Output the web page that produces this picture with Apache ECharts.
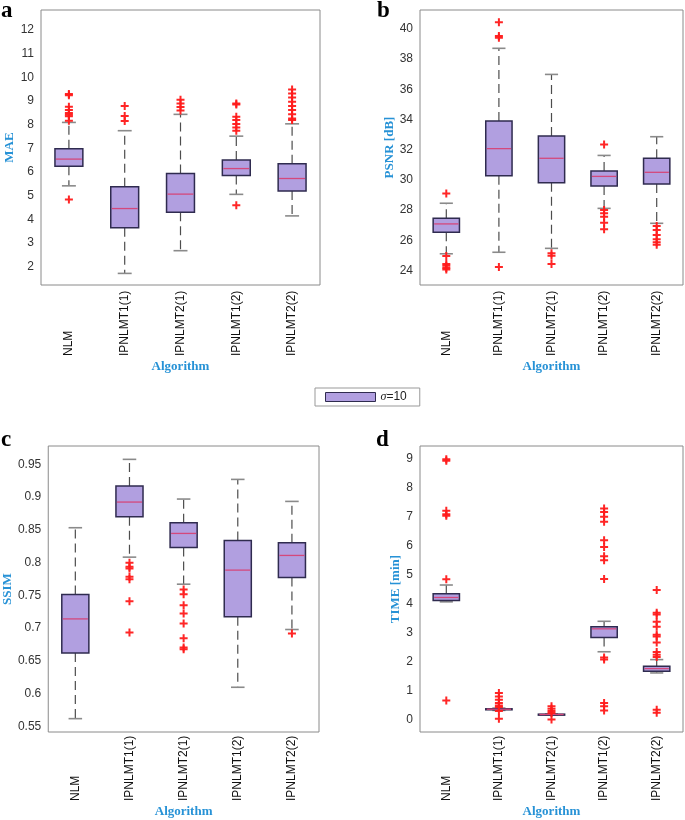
<!DOCTYPE html>
<html>
<head>
<meta charset="utf-8">
<script src="https://cdn.jsdelivr.net/npm/echarts@6/dist/echarts.min.js"></script>
<style>
html,body{margin:0;padding:0;background:#fff;}
#chart{width:685px;height:820px;}
</style>
</head>
<body>
<div id="chart"></div>
<script>
// ---------- data ----------
const categories = ['NLM', 'IPNLMT1(1)', 'IPNLMT2(1)', 'IPNLMT1(2)', 'IPNLMT2(2)'];

// each box: [lower whisker, Q1, median, Q3, upper whisker]
const maeBoxes = [
  [5.42, 6.25, 6.55, 6.99, 8.10],
  [1.72, 3.65, 4.46, 5.38, 7.75],
  [2.68, 4.30, 5.07, 5.94, 8.44],
  [5.06, 5.86, 6.15, 6.51, 7.52],
  [4.15, 5.20, 5.73, 6.35, 8.04]
];
const maeOutliers = [
  [9.30, 9.25, 8.76, 8.62, 8.50, 8.42, 8.36, 8.17, 4.84],
  [8.79, 8.37, 8.16],
  [9.06, 8.90, 8.75, 8.60],
  [8.90, 8.86, 8.34, 8.20, 8.03, 7.89, 7.75, 4.60],
  [9.49, 9.32, 9.15, 8.97, 8.79, 8.62, 8.45, 8.27, 8.20]
];

const psnrBoxes = [
  [25.10, 26.52, 27.08, 27.46, 28.45],
  [25.20, 30.28, 32.07, 33.90, 38.72],
  [25.46, 29.81, 31.43, 32.90, 36.99],
  [28.11, 29.59, 30.23, 30.59, 31.62],
  [27.12, 29.72, 30.50, 31.43, 32.86]
];
const psnrOutliers = [
  [29.10, 24.95, 24.42, 24.30, 24.15, 24.05],
  [40.44, 39.53, 39.42, 24.22],
  [25.13, 24.97, 24.42],
  [32.35, 28.00, 27.78, 27.56, 27.16, 26.72],
  [26.94, 26.67, 26.34, 26.06, 25.86, 25.70]
];

const ssimBoxes = [
  [0.5617, 0.6620, 0.7140, 0.7513, 0.8532],
  [0.8083, 0.8700, 0.8924, 0.9169, 0.9576],
  [0.7670, 0.8231, 0.8445, 0.8608, 0.8970],
  [0.6096, 0.7171, 0.7885, 0.8338, 0.9270],
  [0.6978, 0.7773, 0.8109, 0.8303, 0.8934]
];
const ssimOutliers = [
  [],
  [0.7997, 0.7936, 0.7910, 0.7783, 0.7747, 0.7411, 0.6932],
  [0.7589, 0.7518, 0.7350, 0.7222, 0.7069, 0.6845, 0.6703, 0.6677],
  [],
  [0.6917]
];

const timeBoxes = [
  [4.06, 4.11, 4.21, 4.34, 4.64],
  [0.32, 0.345, 0.36, 0.375, 0.40],
  [0.16, 0.175, 0.18, 0.19, 0.20],
  [2.34, 2.83, 3.13, 3.20, 3.39],
  [1.61, 1.67, 1.76, 1.84, 2.07]
];
const timeOutliers = [
  [8.97, 8.92, 7.20, 7.08, 7.03, 4.84, 0.66],
  [0.92, 0.80, 0.69, 0.57, 0.49, 0.44, 0.30, 0.03],
  [0.46, 0.38, 0.30, 0.23, 0.01],
  [7.28, 7.16, 6.99, 6.82, 6.18, 5.95, 5.63, 5.49, 4.85, 2.14, 2.07, 0.57, 0.46, 0.32],
  [4.47, 3.68, 3.62, 3.37, 3.20, 2.93, 2.87, 2.66, 2.33, 2.24, 2.16, 0.34, 0.24]
];

const maeTicks = [2, 3, 4, 5, 6, 7, 8, 9, 10, 11, 12];
const psnrTicks = [24, 26, 28, 30, 32, 34, 36, 38, 40];
const ssimTicks = [0.55, 0.6, 0.65, 0.7, 0.75, 0.8, 0.85, 0.9, 0.95];
const timeTicks = [0, 1, 2, 3, 4, 5, 6, 7, 8, 9];

const yNames = ['MAE', 'PSNR [dB]', 'SSIM', 'TIME [min]'];
const xName = 'Algorithm';
const legendName = 'σ=10';

// ---------- styling / layout ----------
const BLUE = '#2792d6';
const FILL = '#b19fe0';
const EDGE = '#2f2b4f';
const MED = '#d4487c';

const panels = [
  {boxes: maeBoxes, outs: maeOutliers, ticks: maeTicks, min: 1.23, max: 12.85,
   grid: {left: 41, top: 10, width: 279, height: 275}, nameGap: 25, labelMargin: 71, xGap: 74},
  {boxes: psnrBoxes, outs: psnrOutliers, ticks: psnrTicks, min: 23.03, max: 41.26,
   grid: {left: 420, top: 10, width: 263, height: 275}, nameGap: 21, labelMargin: 71, xGap: 74},
  {boxes: ssimBoxes, outs: ssimOutliers, ticks: ssimTicks, min: 0.5413, max: 0.978,
   grid: {left: 46, top: 446, width: 273, height: 286}, nameGap: 34, labelMargin: 69, xGap: 73},
  {boxes: timeBoxes, outs: timeOutliers, ticks: timeTicks, min: -0.425, max: 9.43,
   grid: {left: 420, top: 446, width: 263, height: 286}, nameGap: 17, labelMargin: 69, xGap: 73}
];

function renderBox(params, api) {
  const i = api.value(0);
  const pLo = api.coord([i, api.value(1)]);
  const pQ1 = api.coord([i, api.value(2)]);
  const pMd = api.coord([i, api.value(3)]);
  const pQ3 = api.coord([i, api.value(4)]);
  const pHi = api.coord([i, api.value(5)]);
  const x = pMd[0];
  const bw = api.size([1, 0])[0] * 0.5;
  const cw = bw * 0.5;
  const wh = {stroke: '#4d4d4d', lineWidth: 1.2, lineDash: [9, 5], fill: null};
  const cap = {stroke: '#8a8a8a', lineWidth: 1.6, fill: null};
  return {
    type: 'group',
    children: [
      {type: 'line', shape: {x1: x, y1: pQ3[1], x2: x, y2: pHi[1]}, style: wh},
      {type: 'line', shape: {x1: x, y1: pQ1[1], x2: x, y2: pLo[1]}, style: wh},
      {type: 'line', shape: {x1: x - cw / 2, y1: pHi[1], x2: x + cw / 2, y2: pHi[1]}, style: cap},
      {type: 'line', shape: {x1: x - cw / 2, y1: pLo[1], x2: x + cw / 2, y2: pLo[1]}, style: cap},
      {type: 'rect', shape: {x: x - bw / 2, y: pQ3[1], width: bw, height: Math.max(pQ1[1] - pQ3[1], 1)},
       style: {fill: FILL, stroke: EDGE, lineWidth: 1.5}},
      {type: 'line', shape: {x1: x - bw / 2 + 1, y1: pMd[1], x2: x + bw / 2 - 1, y2: pMd[1]},
       style: {stroke: MED, lineWidth: 1.3}}
    ]
  };
}

const PLUS = 'path://M3,0H5V3H8V5H5V8H3V5H0V3H3Z';

const grids = [], xAxes = [], yAxes = [], series = [];
panels.forEach((p, g) => {
  grids.push(Object.assign({show: true, borderColor: '#8a8a8a', borderWidth: 1, backgroundColor: 'transparent'}, p.grid));
  xAxes.push({
    type: 'category', gridIndex: g, data: categories, boundaryGap: true,
    axisLine: {show: false}, axisTick: {show: false},
    axisLabel: {interval: 0, rotate: 90, align: 'left', verticalAlign: 'middle', margin: p.labelMargin,
      fontSize: 12, color: '#111', fontFamily: 'Liberation Sans'},
    name: xName, nameLocation: 'middle', nameGap: p.xGap,
    nameTextStyle: {color: BLUE, fontWeight: 'bold', fontSize: 13, fontFamily: 'Liberation Serif'}
  });
  yAxes.push({
    type: 'value', gridIndex: g, min: p.min, max: p.max, position: 'left',
    axisLine: {show: false}, splitLine: {show: false},
    axisTick: {inside: true, length: 3, lineStyle: {color: '#777'}, customValues: p.ticks},
    axisLabel: {customValues: p.ticks, margin: 7, fontSize: 12, color: '#333', fontFamily: 'Liberation Sans'},
    name: yNames[g], nameLocation: 'middle', nameGap: p.nameGap, nameRotate: 90,
    nameTextStyle: {color: BLUE, fontWeight: 'bold', fontSize: 13, fontFamily: 'Liberation Serif'}
  });
  yAxes.push({
    type: 'value', gridIndex: g, min: p.min, max: p.max, position: 'right',
    axisLine: {show: false}, splitLine: {show: false},
    axisTick: {inside: true, length: 3, lineStyle: {color: '#777'}, customValues: p.ticks},
    axisLabel: {show: false, customValues: p.ticks}
  });
  series.push({
    type: 'custom', name: legendName, xAxisIndex: g, yAxisIndex: 2 * g,
    renderItem: renderBox,
    itemStyle: {color: FILL, borderColor: EDGE},
    encode: {x: 0, y: [1, 2, 3, 4, 5]},
    data: p.boxes.map((b, i) => [i].concat(b)),
    z: 2
  });
  const pts = [];
  p.outs.forEach((arr, i) => arr.forEach(v => pts.push([i, v])));
  series.push({
    type: 'scatter', name: 'outliers' + g, xAxisIndex: g, yAxisIndex: 2 * g,
    symbol: PLUS, symbolSize: 8, itemStyle: {color: '#ff1a1a', opacity: 0.95},
    data: pts, z: 5, silent: true
  });
});

const letterStyle = {fontFamily: 'Liberation Serif', fontWeight: 'bold', fontSize: 23, fill: '#000'};
const letters = [['a', 1, 23], ['b', 377, 23], ['c', 1, 452], ['d', 376, 452]];

const option = {
  animation: false,
  backgroundColor: '#fff',
  grid: grids, xAxis: xAxes, yAxis: yAxes, series: series,
  legend: {
    data: [legendName], left: 315, top: 388, orient: 'horizontal',
    padding: [3, 13, 3, 10], itemWidth: 50, itemHeight: 9, itemGap: 5,
    borderColor: '#999', borderWidth: 1, backgroundColor: '#fff',
    icon: 'rect', selectedMode: false,
    itemStyle: {color: FILL, borderColor: EDGE, borderWidth: 1},
    formatter: () => '{i|σ}=10',
    textStyle: {fontSize: 12, color: '#222', fontFamily: 'Liberation Sans',
      rich: {i: {fontStyle: 'italic', fontSize: 12, fontFamily: 'Liberation Serif', color: '#222'}}}
  },
  graphic: letters.map(l => ({type: 'text', left: l[1], top: l[2] - 23, style: Object.assign({text: l[0]}, letterStyle, {verticalAlign: 'top'})}))
};

const chart = echarts.init(document.getElementById('chart'), null, {renderer: 'canvas'});
chart.setOption(option);
</script>
</body>
</html>
